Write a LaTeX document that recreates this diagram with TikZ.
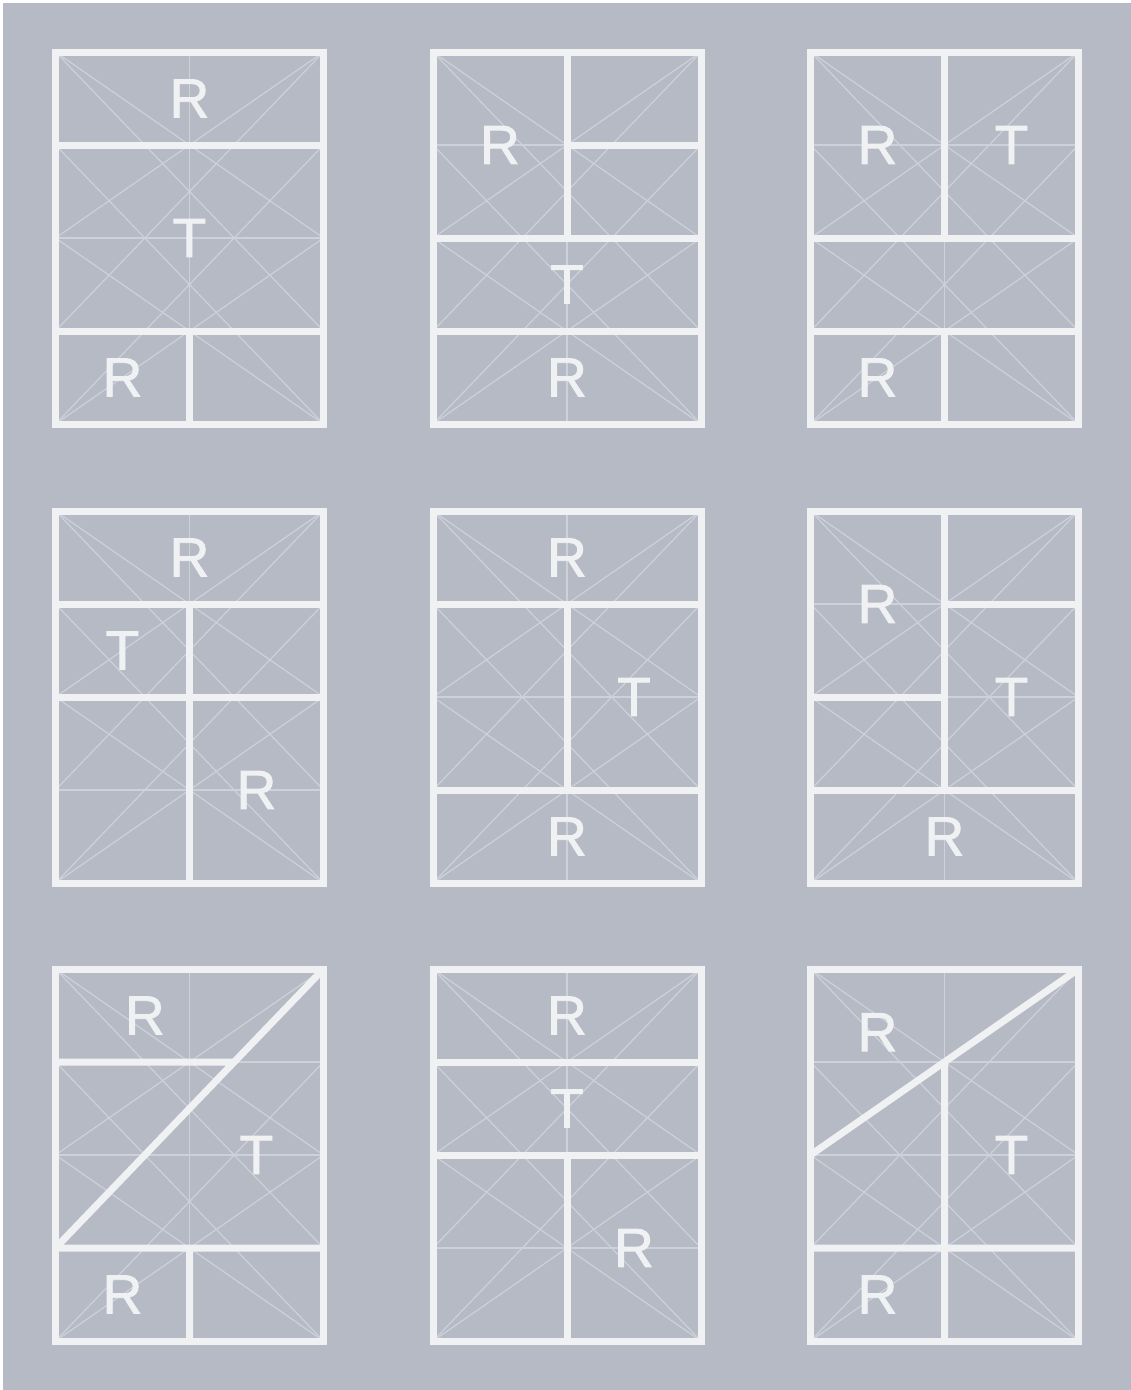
\documentclass[tikz,border=0pt]{standalone}
\usepackage{fontspec}
\setmainfont{Liberation Sans}
\newfontfamily\letterfont[FakeBold=1.6]{Liberation Sans}
\usepackage{tikz}

\definecolor{panelbg}{HTML}{B5BAC5}
\definecolor{frameline}{HTML}{F0F1F3}
\definecolor{guideline}{HTML}{CDD1DA}

\begin{document}
\begin{tikzpicture}[x=1pt, y=-1pt,
    guide/.style={draw=guideline, line width=1.2pt},
    frame/.style={draw=frameline, line width=7pt},
    letter/.style={text=frameline, inner sep=0pt, font=\letterfont\fontsize{55}{55}\selectfont}]
    \useasboundingbox (0, 0) rectangle (1131, 1390);
    \fill[white] (0, 0) rectangle (1131, 1390);
    \fill[panelbg] (3, 3) rectangle (1131, 1390);

    % faint construction lines, same in every panel
    \foreach \px/\py in {55.5/52, 433/52, 810.5/52, 55.5/511, 433/511, 810.5/511, 55.5/969, 433/969, 810.5/969} {
        \begin{scope}[shift={(\px, \py)}, x=268pt, y=-372pt]
            \draw[guide] (0, .25) -- (1, .25) (0, .5) -- (1, .5) (0, .75) -- (1, .75) (.5, 0) -- (.5, 1);
            \draw[guide] (0, 0) -- (1, .5) (1, 0) -- (0, .5) (0, .5) -- (1, 1) (1, .5) -- (0, 1);
            \draw[guide] (0, 0) -- (1, .75) (1, 0) -- (0, .75) (0, .25) -- (1, 1) (1, .25) -- (0, 1);
        \end{scope}
    }

    \begin{scope}[shift={(55.5, 52)}, x=268pt, y=-372pt]
        \draw[frame] (0, 0) rectangle (1, 1);
        \draw[frame] (0, .25) -- (1, .25) (0, .75) -- (1, .75) (.5, .75) -- (.5, 1);
        \node[letter] at (.5, .125) (1Ra) {R};
        \node[letter] at (.5, .5) (1T) {T};
        \node[letter] at (.25, .875) (1Rb) {R};
    \end{scope}

    \begin{scope}[shift={(433, 52)}, x=268pt, y=-372pt]
        \draw[frame] (0, 0) rectangle (1, 1);
        \draw[frame] (.5, 0) -- (.5, .5) (.5, .25) -- (1, .25) (0, .5) -- (1, .5) (0, .75) -- (1, .75);
        \node[letter] at (.25, .25) (2Ra) {R};
        \node[letter] at (.5, .625) (2T) {T};
        \node[letter] at (.5, .875) (2Rb) {R};
    \end{scope}

    \begin{scope}[shift={(810.5, 52)}, x=268pt, y=-372pt]
        \draw[frame] (0, 0) rectangle (1, 1);
        \draw[frame] (.5, 0) -- (.5, .5) (0, .5) -- (1, .5) (0, .75) -- (1, .75) (.5, .75) -- (.5, 1);
        \node[letter] at (.25, .25) (3Ra) {R};
        \node[letter] at (.75, .25) (3T) {T};
        \node[letter] at (.25, .875) (3Rb) {R};
    \end{scope}

    \begin{scope}[shift={(55.5, 511)}, x=268pt, y=-372pt]
        \draw[frame] (0, 0) rectangle (1, 1);
        \draw[frame] (0, .25) -- (1, .25) (0, .5) -- (1, .5) (.5, .25) -- (.5, 1);
        \node[letter] at (.5, .125) (4Ra) {R};
        \node[letter] at (.25, .375) (4T) {T};
        \node[letter] at (.75, .75) (4Rb) {R};
    \end{scope}

    \begin{scope}[shift={(433, 511)}, x=268pt, y=-372pt]
        \draw[frame] (0, 0) rectangle (1, 1);
        \draw[frame] (0, .25) -- (1, .25) (.5, .25) -- (.5, .75) (0, .75) -- (1, .75);
        \node[letter] at (.5, .125) (5Ra) {R};
        \node[letter] at (.75, .5) (5T) {T};
        \node[letter] at (.5, .875) (5Rb) {R};
    \end{scope}

    \begin{scope}[shift={(810.5, 511)}, x=268pt, y=-372pt]
        \draw[frame] (0, 0) rectangle (1, 1);
        \draw[frame] (.5, 0) -- (.5, .75) (.5, .25) -- (1, .25) (0, .5) -- (.5, .5) (0, .75) -- (1, .75);
        \node[letter] at (.25, .25) (6Ra) {R};
        \node[letter] at (.75, .5) (6T) {T};
        \node[letter] at (.5, .875) (6Rb) {R};
    \end{scope}

    \begin{scope}[shift={(55.5, 969)}, x=268pt, y=-372pt]
        \draw[frame] (0, 0) rectangle (1, 1);
        \draw[frame] (0, .75) -- (1, 0) (0, .25) -- (2/3, .25) (0, .75) -- (1, .75) (.5, .75) -- (.5, 1);
        \node[letter] at (1/3, .125) (7Ra) {R};
        \node[letter] at (.75, .5) (7T) {T};
        \node[letter] at (.25, .875) (7Rb) {R};
    \end{scope}

    \begin{scope}[shift={(433, 969)}, x=268pt, y=-372pt]
        \draw[frame] (0, 0) rectangle (1, 1);
        \draw[frame] (0, .25) -- (1, .25) (0, .5) -- (1, .5) (.5, .5) -- (.5, 1);
        \node[letter] at (.5, .125) (8Ra) {R};
        \node[letter] at (.5, .375) (8T) {T};
        \node[letter] at (.75, .75) (8Rb) {R};
    \end{scope}

    \begin{scope}[shift={(810.5, 969)}, x=268pt, y=-372pt]
        \draw[frame] (0, 0) rectangle (1, 1);
        \draw[frame] (0, .5) -- (1, 0) (.5, .25) -- (.5, 1) (0, .75) -- (1, .75);
        \node[letter] at (.25, .17) (9Ra) {R};
        \node[letter] at (.75, .5) (9T) {T};
        \node[letter] at (.25, .875) (9Rb) {R};
    \end{scope}
\end{tikzpicture}
\end{document}
